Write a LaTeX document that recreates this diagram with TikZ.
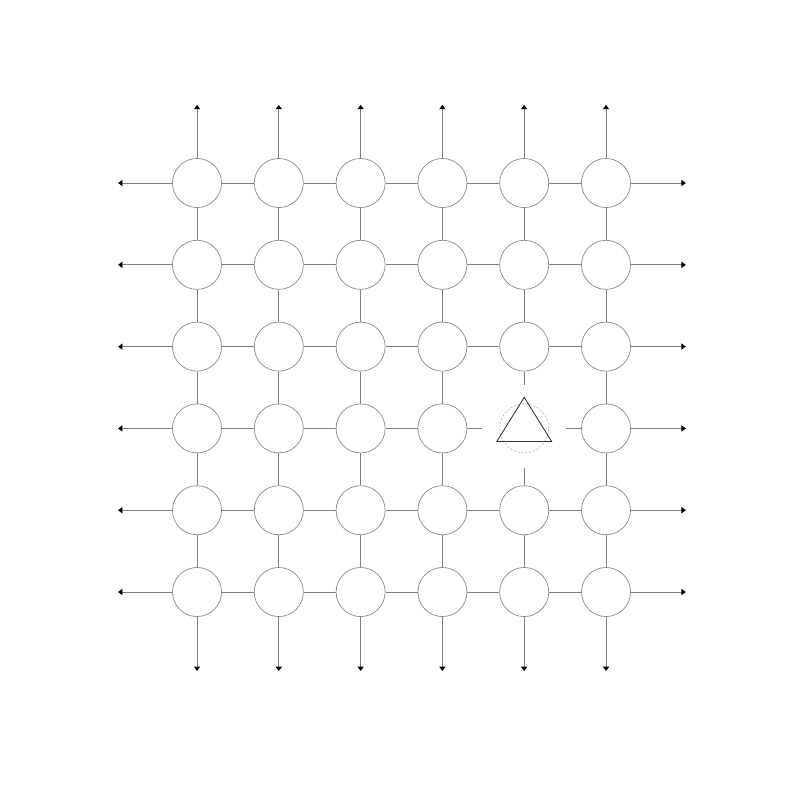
\documentclass[tikz,border=0pt]{standalone}
\usetikzlibrary{arrows.meta,calc}
\begin{document}
\begin{tikzpicture}[
    cell/.style={circle,draw=black!45,line width=0.5pt,minimum size=1.2cm,inner sep=0pt},
    hole/.style={circle,draw=black!30,dash pattern=on 1.5pt off 1.2pt,line width=0.4pt,minimum size=1.2cm,inner sep=0pt},
    link/.style={draw=black!50,line width=0.5pt},
    outlink/.style={link,-{Triangle[length=3pt,width=4.3pt,black]}}]
    \useasboundingbox (0,0) rectangle (19.56,19.56);
    % cells
    \foreach \i in {1,...,6} {
      \foreach \j in {1,...,6} {
        \ifnum\i\j=54 \def\kind{hole}\else\def\kind{cell}\fi
        \node[\kind] (c\i\j) at ({2.817+2*\i},{17.085-2*\j}) {};
      }
    }
    \draw[line width=0.6pt,black!80,line join=miter] ($(c54)+(0,0.76)$) -- ($(c54)+(0.67,-0.32)$) -- ($(c54)+(-0.67,-0.32)$) -- cycle;
    % links
    \foreach \j in {1,2,3,5,6} {
      \foreach \i in {1,...,5} {
        \pgfmathtruncatemacro\n{\i+1}
        \draw[link] (c\i\j) -- (c\n\j);
      }
    }
    \foreach \i in {1,2,3} {
      \pgfmathtruncatemacro\n{\i+1}
      \draw[link] (c\i4) -- (c\n4);
    }
    \foreach \i in {1,2,3,4,6} {
      \foreach \j in {1,...,5} {
        \pgfmathtruncatemacro\n{\j+1}
        \draw[link] (c\i\j) -- (c\i\n);
      }
    }
    \foreach \j in {1,2,5} {
      \pgfmathtruncatemacro\n{\j+1}
      \draw[link] (c5\j) -- (c5\n);
    }
    % broken links round the triangle
    \draw[link,shorten >=0.42cm] (c44) -- (c54);
    \draw[link,shorten <=0.42cm] (c54) -- (c64);
    \draw[link,shorten >=0.45cm] (c53) -- (c54);
    \draw[link,shorten <=0.36cm] (c54) -- (c55);
    % outer arrows
    \foreach \k in {1,...,6} {
      \coordinate (w\k) at ($(c1\k)+(-1.93,0)$);
      \coordinate (e\k) at ($(c6\k)+(1.95,0)$);
      \coordinate (n\k) at ($(c\k1)+(0,1.91)$);
      \coordinate (s\k) at ($(c\k6)+(0,-1.93)$);
      \draw[outlink] (c1\k) -- (w\k);
      \draw[outlink] (c6\k) -- (e\k);
      \draw[outlink] (c\k1) -- (n\k);
      \draw[outlink] (c\k6) -- (s\k);
    }
\end{tikzpicture}
\end{document}
